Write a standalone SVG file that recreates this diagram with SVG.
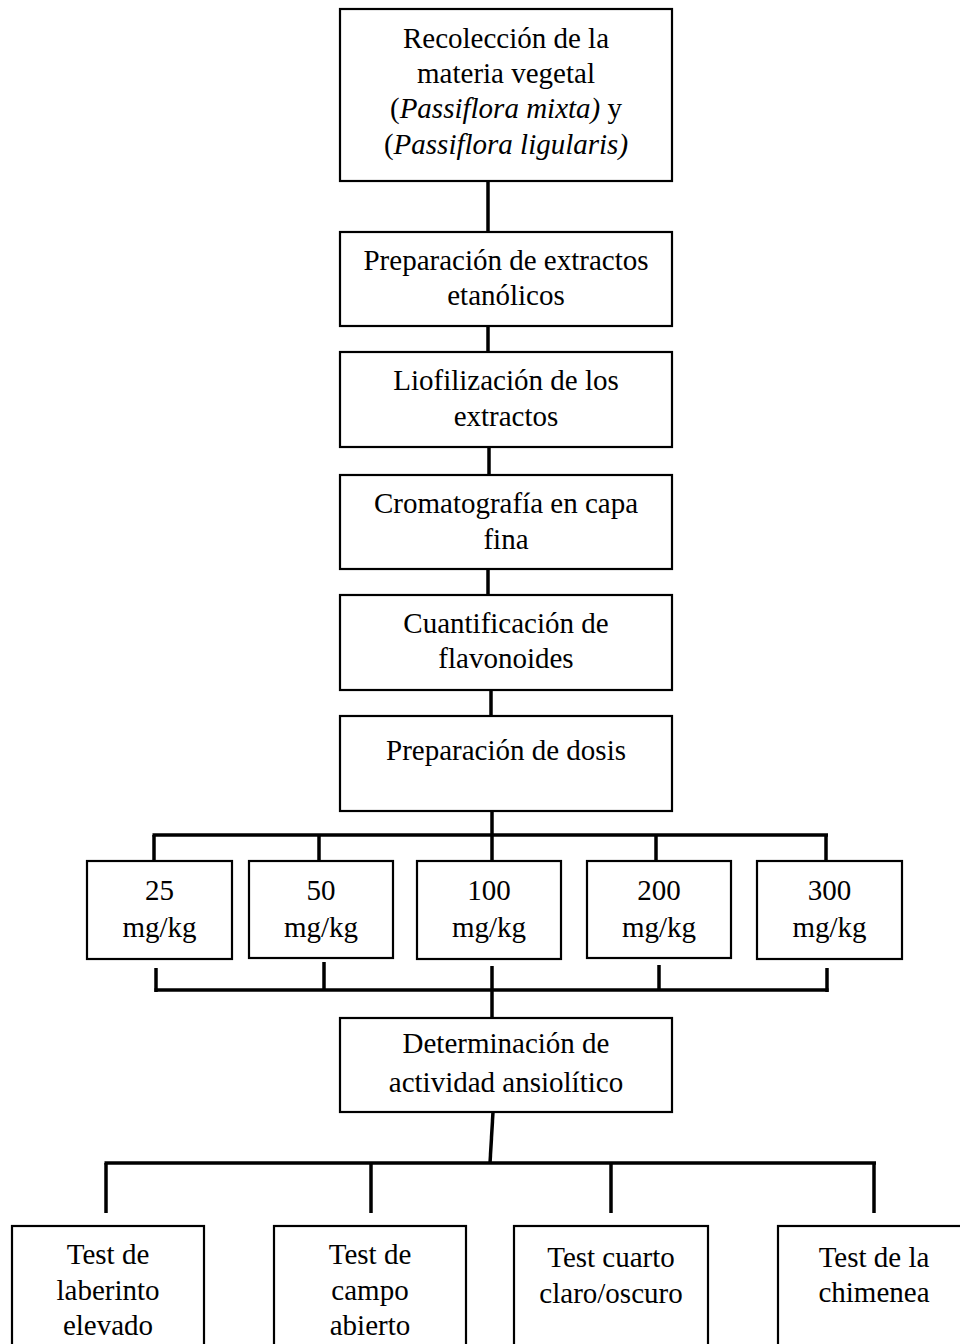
<svg xmlns="http://www.w3.org/2000/svg" width="960" height="1344" viewBox="0 0 960 1344">
<style>
.box{fill:#fff;stroke:#000;stroke-width:2.2}
.t{font-family:"Liberation Serif","Times New Roman",serif;font-size:29px;fill:#000;text-anchor:middle}
.c{stroke:#000;stroke-width:3.5;fill:none;stroke-linecap:butt}
</style>
<rect width="960" height="1344" fill="#fff"/>
<g id="connectors">
<line class="c" x1="488" y1="181" x2="488" y2="232"/>
<line class="c" x1="488" y1="326" x2="488" y2="352"/>
<line class="c" x1="489" y1="447" x2="489" y2="475"/>
<line class="c" x1="488" y1="569" x2="488" y2="595"/>
<line class="c" x1="491" y1="690" x2="491" y2="716"/>
<line class="c" x1="492" y1="811" x2="492" y2="861"/>
<line class="c" x1="152.5" y1="835" x2="828" y2="835"/>
<line class="c" x1="154" y1="835" x2="154" y2="861"/>
<line class="c" x1="319" y1="835" x2="319" y2="861"/>
<line class="c" x1="656" y1="835" x2="656" y2="861"/>
<line class="c" x1="826" y1="835" x2="826" y2="861"/>
<line class="c" x1="156" y1="968" x2="156" y2="992"/>
<line class="c" x1="324" y1="962" x2="324" y2="990"/>
<line class="c" x1="492" y1="966" x2="492" y2="1018"/>
<line class="c" x1="659" y1="965" x2="659" y2="990"/>
<line class="c" x1="827" y1="968" x2="827" y2="992"/>
<line class="c" x1="154.5" y1="990" x2="828.5" y2="990"/>
<line class="c" x1="493" y1="1112" x2="490" y2="1163"/>
<line class="c" x1="104.5" y1="1163" x2="876" y2="1163"/>
<line class="c" x1="106" y1="1163" x2="106" y2="1213"/>
<line class="c" x1="371" y1="1163" x2="371" y2="1213"/>
<line class="c" x1="611" y1="1163" x2="611" y2="1213"/>
<line class="c" x1="874" y1="1163" x2="874" y2="1213"/>
</g>
<g id="n1"><rect class="box" x="340" y="9" width="332" height="172"/>
<text class="t" x="506" y="48">Recolección de la</text>
<text class="t" x="506" y="83">materia vegetal</text>
<text class="t" x="506" y="118">(<tspan font-style="italic">Passiflora mixta)</tspan> y</text>
<text class="t" x="506" y="154">(<tspan font-style="italic">Passiflora ligularis)</tspan></text></g>
<g id="n2"><rect class="box" x="340" y="232" width="332" height="94"/>
<text class="t" x="506" y="270">Preparación de extractos</text>
<text class="t" x="506" y="305">etanólicos</text></g>
<g id="n3"><rect class="box" x="340" y="352" width="332" height="95"/>
<text class="t" x="506" y="390">Liofilización de los</text>
<text class="t" x="506" y="426">extractos</text></g>
<g id="n4"><rect class="box" x="340" y="475" width="332" height="94"/>
<text class="t" x="506" y="513">Cromatografía en capa</text>
<text class="t" x="506" y="549">fina</text></g>
<g id="n5"><rect class="box" x="340" y="595" width="332" height="95"/>
<text class="t" x="506" y="633">Cuantificación de</text>
<text class="t" x="506" y="668">flavonoides</text></g>
<g id="n6"><rect class="box" x="340" y="716" width="332" height="95"/>
<text class="t" x="506" y="760">Preparación de dosis</text></g>
<g id="d25"><rect class="box" x="87" y="861" width="145" height="98"/>
<text class="t" x="159.5" y="900">25</text><text class="t" x="159.5" y="937">mg/kg</text></g>
<g id="d50"><rect class="box" x="249" y="861" width="144" height="97"/>
<text class="t" x="321" y="900">50</text><text class="t" x="321" y="937">mg/kg</text></g>
<g id="d100"><rect class="box" x="417" y="861" width="144" height="98"/>
<text class="t" x="489" y="900">100</text><text class="t" x="489" y="937">mg/kg</text></g>
<g id="d200"><rect class="box" x="587" y="861" width="144" height="97"/>
<text class="t" x="659" y="900">200</text><text class="t" x="659" y="937">mg/kg</text></g>
<g id="d300"><rect class="box" x="757" y="861" width="145" height="98"/>
<text class="t" x="829.5" y="900">300</text><text class="t" x="829.5" y="937">mg/kg</text></g>
<g id="n7"><rect class="box" x="340" y="1018" width="332" height="94"/>
<text class="t" x="506" y="1053">Determinación de</text>
<text class="t" x="506" y="1092">actividad ansiolítico</text></g>
<g id="t1"><rect class="box" x="12" y="1226" width="192" height="140"/>
<text class="t" x="108" y="1264">Test de</text><text class="t" x="108" y="1300">laberinto</text><text class="t" x="108" y="1335">elevado</text></g>
<g id="t2"><rect class="box" x="274" y="1226" width="192" height="140"/>
<text class="t" x="370" y="1264">Test de</text><text class="t" x="370" y="1300">campo</text><text class="t" x="370" y="1335">abierto</text></g>
<g id="t3"><rect class="box" x="514" y="1226" width="194" height="140"/>
<text class="t" x="611" y="1267">Test cuarto</text><text class="t" x="611" y="1303">claro/oscuro</text></g>
<g id="t4"><rect class="box" x="778" y="1226" width="194" height="140"/>
<text class="t" x="874" y="1267">Test de la</text><text class="t" x="874" y="1302">chimenea</text></g>
</svg>
